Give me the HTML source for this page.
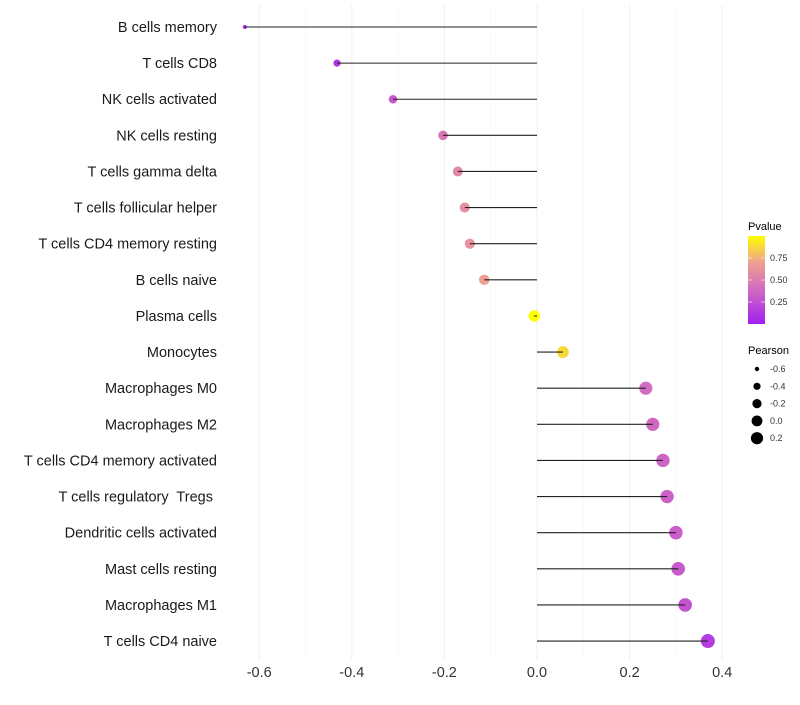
<!DOCTYPE html>
<html><head><meta charset="utf-8"><style>
body{margin:0;background:#fff;font-family:"Liberation Sans",sans-serif}
text{white-space:pre}
</style></head><body>
<svg id="c" width="800" height="700" xmlns="http://www.w3.org/2000/svg">
<defs><linearGradient id="pg" x1="0" y1="1" x2="0" y2="0">
<stop offset="0" stop-color="#a020f0"/><stop offset="0.4" stop-color="#d36cc0"/><stop offset="0.7" stop-color="#eea090"/><stop offset="1" stop-color="#ffff00"/>
</linearGradient></defs>
<g id="grid"></g>
<g id="marks"></g>
<g id="ylab"></g>
<g id="xlab"></g>
<g>
<text x="748" y="230" font-size="11" fill="#000">Pvalue</text>
<rect x="748" y="236" width="17" height="88" fill="url(#pg)"/>
<g id="cbt"></g>
</g>
<g id="sizeleg">
<text x="748" y="354" font-size="11" fill="#000">Pearson</text>
</g>
</svg>
<script>
const categories=["B cells memory","T cells CD8","NK cells activated","NK cells resting","T cells gamma delta","T cells follicular helper","T cells CD4 memory resting","B cells naive","Plasma cells","Monocytes","Macrophages M0","Macrophages M2","T cells CD4 memory activated","T cells regulatory  Tregs ","Dendritic cells activated","Mast cells resting","Macrophages M1","T cells CD4 naive"];
const pearson=[-0.631,-0.432,-0.311,-0.203,-0.171,-0.156,-0.145,-0.114,-0.006,0.056,0.235,0.25,0.272,0.281,0.30,0.305,0.32,0.369];
const pvalues=[0.05,0.12,0.3,0.45,0.55,0.6,0.62,0.7,1.0,0.88,0.4,0.38,0.36,0.34,0.32,0.3,0.27,0.15];
const xTicks=[-0.6,-0.4,-0.2,0.0,0.2,0.4];
const xTickLabels=["-0.6","-0.4","-0.2","0.0","0.2","0.4"];
const pTicks=[0.25,0.5,0.75];
const pTickLabels=["0.25","0.50","0.75"];
const sizeVals=[-0.6,-0.4,-0.2,0.0,0.2];
const sizeLabels=["-0.6","-0.4","-0.2","0.0","0.2"];
const NS="http://www.w3.org/2000/svg";
const xs=v=>537+v*463;
const ys=i=>27+i*36.12;
const rs=v=>Math.sqrt(Math.max(1,32.4+45*v));
function lerp(a,b,t){return a+(b-a)*t}
const stops=[[0,[160,32,240]],[0.4,[211,108,192]],[0.7,[238,160,144]],[1,[255,255,0]]];
function col(p){for(let k=1;k<stops.length;k++){if(p<=stops[k][0]){const t=(p-stops[k-1][0])/(stops[k][0]-stops[k-1][0]);const a=stops[k-1][1],b=stops[k][1];return `rgb(${a.map((c,j)=>Math.round(lerp(c,b[j],t))).join(',')})`;}}return 'rgb(255,255,0)';}
function mk(tag,attrs,parent,txt){const e=document.createElementNS(NS,tag);for(const k in attrs)e.setAttribute(k,attrs[k]);if(txt!==undefined)e.textContent=txt;parent.appendChild(e);return e;}
const grid=document.getElementById('grid');
for(let v=-0.6;v<=0.401;v+=0.1){const major=Math.abs(Math.round(v*10))%2===0;
const l=mk('line',{x1:xs(v),x2:xs(v),y1:5,y2:660,stroke:major?'#efefef':'#f5f5f5','stroke-width':major?1:0.6},grid);

}
const marks=document.getElementById('marks'),ylab=document.getElementById('ylab');
categories.forEach((c,i)=>{const y=ys(i);
const pt=mk('circle',{cx:xs(pearson[i]),cy:y,r:rs(pearson[i]),fill:col(pvalues[i])},marks);


const ln=mk('line',{x1:xs(0),x2:xs(pearson[i]),y1:y,y2:y,stroke:'#222','stroke-width':1.1},marks);


const t=mk('text',{x:217,y:y+5,'text-anchor':'end','font-size':14.5,fill:'#1a1a1a'},ylab,c);

});
const xl=document.getElementById('xlab');
xTicks.forEach((v,i)=>{const t=mk('text',{x:xs(v),y:677,'text-anchor':'middle','font-size':14.5,fill:'#333'},xl,xTickLabels[i]);

});
const cbt=document.getElementById('cbt');
pTicks.forEach((p,i)=>{const y=324-p*88;
const l=mk('line',{x1:748,x2:752,y1:y,y2:y,stroke:'#fff','stroke-width':0.6},cbt);


const l2=mk('line',{x1:761,x2:765,y1:y,y2:y,stroke:'#fff','stroke-width':0.6},cbt);


const t=mk('text',{x:770,y:y+3,'font-size':9,fill:'#333'},cbt,pTickLabels[i]);

});
const sl=document.getElementById('sizeleg');
sizeVals.forEach((v,i)=>{const y=369+i*17.3;
const c=mk('circle',{cx:757,cy:y,r:rs(v)*0.95,fill:'#000'},sl);


const t=mk('text',{x:770,y:y+3,'font-size':9,fill:'#333'},sl,sizeLabels[i]);

});
</script>
</body></html>
